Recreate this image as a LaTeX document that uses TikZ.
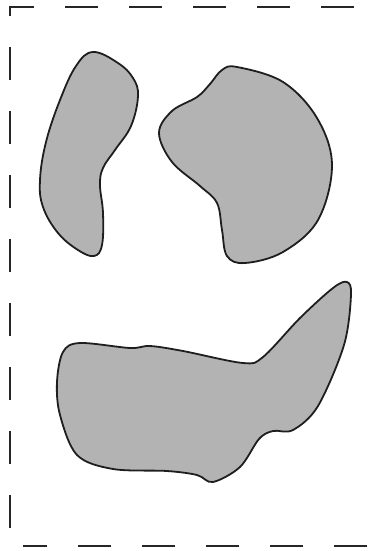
\documentclass[tikz,border=0pt]{standalone}
\usepackage{tikz}
\definecolor{blobfill}{RGB}{179,179,179}
\definecolor{blobline}{RGB}{30,30,30}
\tikzset{
  blob/.style={fill=blobfill, draw=blobline, line width=1.8pt},
  frame/.style={draw=black!85, line width=2pt, dash pattern=on 33pt off 31pt}
}
\begin{document}
\begin{tikzpicture}[x=1pt,y=-1pt]
\useasboundingbox (0,0) rectangle (369,551);
\begin{scope}
\clip (0,0) rectangle (369,551);
% dashed frame
\coordinate (bl) at (10,546);
\coordinate (tl) at (10,7);
\coordinate (tr) at (400,7);
\coordinate (bs) at (23,546);
\coordinate (be) at (400,546);
\draw[frame, dash phase=46pt] (bl) -- (tl) -- (tr);
\draw[frame, dash phase=9pt] (bs) -- (be);
\end{scope}
% blob 1 (left, upper)
\draw[blob] plot[smooth cycle, tension=0.65] coordinates {
 (93,52) (118,63) (133,78) (138,96) (131,126) (115,150) (103,168) (100,185) (103,213)
 (102,245) (94,256) (78,250) (58,233) (43,207) (40,180) (46,142) (60,100) (76,66)};
% blob 2 (right, upper)
\draw[blob] plot[smooth cycle, tension=0.6] coordinates {
 (237,67) (283,82) (317,118) (332,165) (318,220) (283,252) (245,263) (227,256)
 (222,230) (217,203) (200,186) (172,162) (159,133) (172,111) (197,97) (210,84) (222,70)};
% blob 3 (bottom)
\draw[blob] plot[smooth cycle, tension=0.55] coordinates {
 (347,282) (351,295) (344,345) (318,406) (293,430) (273,431) (259,439) (240,467)
 (213,482) (197,475) (167,471) (113,469) (77,455) (60,415) (57,382) (63,352)
 (80,343) (130,348) (150,346) (183,351) (243,363) (263,357) (300,318) (333,288)};
\end{tikzpicture}
\end{document}
